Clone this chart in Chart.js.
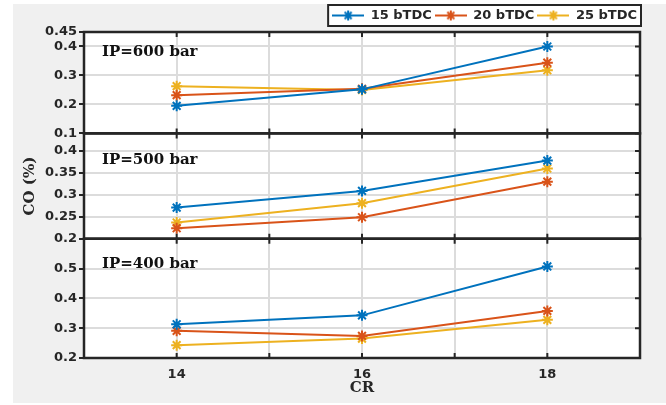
<!DOCTYPE html>
<html>
<head>
<meta charset="utf-8">
<script src="https://cdn.jsdelivr.net/npm/chart.js@4"></script>
<style>
  html, body { margin: 0; padding: 0; background: #ffffff; }
  canvas { display: block; }
</style>
</head>
<body>
<canvas id="chart" width="666" height="405"></canvas>
<script>
// compression ratio on x
const cr = [14, 16, 18];
const seriesNames = ['15 bTDC', '20 bTDC', '25 bTDC'];
const seriesColors = ['#0072BD', '#D95319', '#EDB120'];

// CO (%) - IP=600 bar
const co600_15 = [0.195, 0.252, 0.400];
const co600_20 = [0.232, 0.254, 0.344];
const co600_25 = [0.263, 0.250, 0.318];
// CO (%) - IP=500 bar
const co500_15 = [0.271, 0.309, 0.378];
const co500_20 = [0.224, 0.249, 0.330];
const co500_25 = [0.237, 0.281, 0.360];
// CO (%) - IP=400 bar
const co400_15 = [0.313, 0.343, 0.507];
const co400_20 = [0.291, 0.274, 0.358];
const co400_25 = [0.243, 0.265, 0.328];

const panelLabels = ['IP=600 bar', 'IP=500 bar', 'IP=400 bar'];
const yTicks600 = [0.1, 0.2, 0.3, 0.4, 0.45];
const yTicks500 = [0.2, 0.25, 0.3, 0.35, 0.4];
const yTicks400 = [0.2, 0.3, 0.4, 0.5];
const xTicks = [14, 15, 16, 17, 18];
const xLabels = [14, 16, 18];

const ink = '#262626';
const gridCol = '#dcdcdc';
const tickFont = { family: 'DejaVu Sans', size: 13, weight: 'bold' };

const panels = [
    { axis: 'yTop', series: [co600_15, co600_20, co600_25] },
    { axis: 'yMid', series: [co500_15, co500_20, co500_25] },
    { axis: 'yBot', series: [co400_15, co400_20, co400_25] }
];

const datasets = [];
panels.forEach(p => {
    p.series.forEach((vals, i) => {
        datasets.push({
            label: seriesNames[i],
            data: cr.map((x, k) => ({ x: x, y: vals[k] })),
            yAxisID: p.axis,
            borderColor: seriesColors[i],
            backgroundColor: seriesColors[i],
            borderWidth: 2,
            pointStyle: 'star',
            pointRadius: 5.5,
            pointBorderWidth: 2,
            tension: 0
        });
    });
});

function legendIcon(color) {
    const c = document.createElement('canvas');
    c.width = 32; c.height = 14;
    const g = c.getContext('2d');
    g.strokeStyle = color;
    g.lineWidth = 2;
    g.beginPath(); g.moveTo(0, 7); g.lineTo(32, 7); g.stroke();
    const r = 5;
    g.beginPath();
    g.moveTo(16 - r, 7); g.lineTo(16 + r, 7);
    g.moveTo(16, 7 - r); g.lineTo(16, 7 + r);
    g.moveTo(16 - r * 0.7, 7 - r * 0.7); g.lineTo(16 + r * 0.7, 7 + r * 0.7);
    g.moveTo(16 - r * 0.7, 7 + r * 0.7); g.lineTo(16 + r * 0.7, 7 - r * 0.7);
    g.stroke();
    return c;
}

function yAxis(ticks, min, max, weight, showTitle) {
    return {
        type: 'linear',
        position: 'left',
        stack: 'co',
        stackWeight: weight,
        min: min,
        max: max,
        afterBuildTicks: s => { s.ticks = ticks.map(v => ({ value: v })); },
        afterFit: s => { s.width = 71; },
        border: { display: false },
        grid: { color: gridCol, lineWidth: 2, tickColor: ink, tickLength: 5, tickWidth: 2 },
        ticks: { font: tickFont, color: ink, padding: 2, autoSkip: false, callback: v => String(v) },
        title: {
            display: showTitle,
            text: 'CO (%)',
            color: ink,
            font: { family: 'DejaVu Serif', size: 15, weight: 'bold' },
            padding: 8
        }
    };
}

const framePlugin = {
    id: 'frame',
    beforeDraw(chart) {
        const ctx = chart.ctx;
        const ca = chart.chartArea;
        ctx.save();
        ctx.fillStyle = '#f0f0f0';
        ctx.fillRect(13, 4, 653, 399);
        ctx.fillStyle = '#ffffff';
        ctx.fillRect(ca.left, ca.top, ca.right - ca.left, ca.bottom - ca.top);
        // legend box
        const boxes = chart.legend.legendHitBoxes;
        if (boxes && boxes.length) {
            const l = Math.min(...boxes.map(b => b.left)) - 4;
            const r = Math.max(...boxes.map(b => b.left + b.width)) + 4;
            const t = Math.min(...boxes.map(b => b.top)) - 4;
            const btm = Math.max(...boxes.map(b => b.top + b.height)) + 4;
            ctx.fillRect(l, t, r - l, btm - t);
            ctx.strokeStyle = ink;
            ctx.lineWidth = 2;
            ctx.strokeRect(l, t, r - l, btm - t);
        }
        ctx.restore();
    },
    afterDatasetsDraw(chart) {
        const ctx = chart.ctx;
        const ca = chart.chartArea;
        const x = chart.scales.x;
        ctx.save();
        ctx.strokeStyle = ink;
        ['yTop', 'yMid', 'yBot'].forEach((id, n) => {
            const s = chart.scales[id];
            ctx.lineWidth = 2.5;
            ctx.strokeRect(ca.left, s.top, ca.right - ca.left, s.bottom - s.top);
            ctx.lineWidth = 2;
            ctx.beginPath();
            s.ticks.forEach(t => {
                const py = s.getPixelForValue(t.value);
                ctx.moveTo(ca.right, py); ctx.lineTo(ca.right - 5, py);
            });
            xTicks.forEach(v => {
                const px = x.getPixelForValue(v);
                ctx.moveTo(px, s.top); ctx.lineTo(px, s.top + 5);
                ctx.moveTo(px, s.bottom); ctx.lineTo(px, s.bottom - 5);
            });
            ctx.stroke();
            ctx.fillStyle = '#111111';
            ctx.font = 'bold 15px "DejaVu Serif"';
            ctx.textBaseline = 'middle';
            ctx.textAlign = 'left';
            ctx.fillText(panelLabels[n], 102, s.top + [20, 27, 25][n]);
        });
        // x tick labels
        ctx.fillStyle = ink;
        ctx.font = 'bold 13px "DejaVu Sans"';
        ctx.textAlign = 'center';
        ctx.textBaseline = 'middle';
        xLabels.forEach(v => {
            ctx.fillText(String(v), x.getPixelForValue(v), ca.bottom + 17);
        });
        ctx.restore();
    }
};

new Chart(document.getElementById('chart').getContext('2d'), {
    type: 'line',
    data: { datasets: datasets },
    options: {
        responsive: false,
        animation: false,
        layout: { padding: { left: 13, right: 26, top: 6, bottom: 0 } },
        plugins: {
            legend: {
                position: 'top',
                align: 'end',
                labels: {
                    usePointStyle: true,
                    pointStyleWidth: 32,
                    padding: 3,
                    color: ink,
                    font: tickFont,
                    filter: item => item.datasetIndex < 3,
                    generateLabels: chart => {
                        const items = Chart.defaults.plugins.legend.labels.generateLabels(chart);
                        items.forEach(it => { it.pointStyle = legendIcon(seriesColors[it.datasetIndex % 3]); });
                        return items;
                    }
                }
            },
            tooltip: { enabled: false }
        },
        scales: {
            x: {
                type: 'linear',
                min: 13,
                max: 19,
                afterBuildTicks: s => { s.ticks = xTicks.map(v => ({ value: v })); },
                afterFit: s => { s.height = 47; },
                border: { display: false },
                grid: { color: gridCol, lineWidth: 2, drawTicks: false },
                ticks: { display: false },
                title: {
                    display: true,
                    text: 'CR',
                    color: ink,
                    font: { family: 'DejaVu Serif', size: 15, weight: 'bold' },
                    padding: { top: 0, bottom: 8 }
                }
            },
            yBot: yAxis(yTicks400, 0.2, 0.6, 120, false),
            yMid: yAxis(yTicks500, 0.2, 0.44, 106, true),
            yTop: yAxis(yTicks600, 0.1, 0.45, 102, false)
        }
    },
    plugins: [framePlugin]
});
</script>
</body>
</html>
